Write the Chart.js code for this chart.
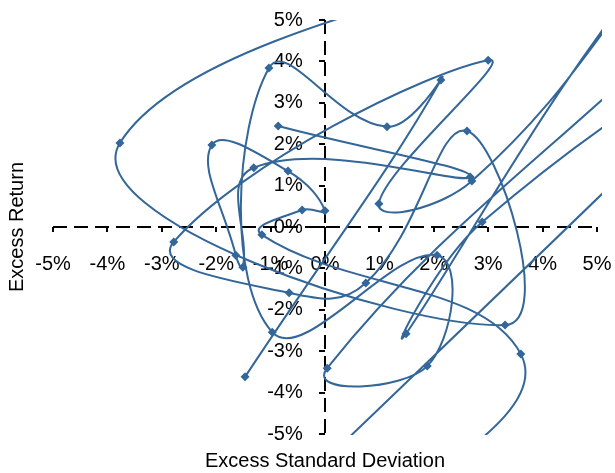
<!DOCTYPE html>
<html>
<head>
<meta charset="utf-8">
<script src="https://cdn.jsdelivr.net/npm/chart.js@4.4.0/dist/chart.umd.min.js"></script>
<style>
    html, body { margin: 0; padding: 0; background: #fff; }
</style>
</head>
<body>
<canvas id="riskChart" width="615" height="473"></canvas>
<script>
// series in plotting order, values in %
// (some points sit outside the -5%..5% window, the plot clips them like the original)
var excessStdDev = [-0.86, 2.67, -1.31, -1.51, -1.64, -2.08, -0.68, 0.00, -0.42, -1.16,
                    3.60, 1.40, -4.00, -2.00, 8.00, 8.50, 2.89, 1.49, 6.60, 8.30,
                    -3.77, 3.31, 2.61, 0.75, -0.66, -2.78, 3.00, 0.99, 2.70, 7.50,
                    8.50, 0.04, 1.88, 2.06, -0.97, -1.03, 1.14, 2.13, -1.47];
var excessReturn = [2.44, 1.21, 1.43, -0.97, -0.68, 1.98, 1.35, 0.39, 0.41, -0.19,
                    -3.07, -6.60, -10.70, -8.17, 4.51, 5.30, 0.12, -2.58, 7.30, 8.20,
                    2.03, -2.37, 2.32, -1.35, -1.59, -0.36, 4.03, 0.56, 1.11, 8.20,
                    7.60, -3.41, -3.36, -0.68, -2.54, 3.84, 2.42, 3.55, -3.62];
var axisTicks = [-5, -4, -3, -2, -1, 0, 1, 2, 3, 4, 5];
var xTitle = 'Excess Standard Deviation';
var yTitle = 'Excess Return';

var lineColor = '#336699';

Chart.defaults.font.family = '"Liberation Sans", Arial, sans-serif';
Chart.defaults.font.size = 20;
Chart.defaults.color = '#000';

var points = excessStdDev.map(function(x, i) {
    return { x: x, y: excessReturn[i] };
});

function setTicks(scale) {
    scale.ticks = axisTicks.map(function(v) { return { value: v }; });
}

// only the zero line is drawn, dashed, so it works as the crossing axis
function zeroLine(ctx) {
    return ctx.tick && ctx.tick.value === 0 ? '#000' : 'rgba(0,0,0,0)';
}

new Chart(document.getElementById('riskChart'), {
    type: 'scatter',
    data: {
        datasets: [{
            data: points,
            showLine: true,
            borderColor: lineColor,
            borderWidth: 2,
            tension: 0.45,
            backgroundColor: lineColor,
            pointStyle: 'rectRot',
            pointRadius: 4.5,
            pointBorderWidth: 0,
            clip: { left: 0, top: 0, right: 5, bottom: 1 }
        }]
    },
    options: {
        responsive: false,
        animation: false,
        layout: { padding: { left: 5, top: 20, right: 18, bottom: 0 } },
        elements: { line: { capBezierPoints: false } },
        plugins: {
            legend: { display: false },
            tooltip: { enabled: false }
        },
        scales: {
            x: {
                type: 'linear', min: -5, max: 5,
                position: { y: 0 },
                afterBuildTicks: setTicks,
                afterFit: function(s) { s.paddingLeft = 0; s.paddingRight = 0; },
                ticks: { callback: function(v) { return v + '%'; }, padding: 20, maxRotation: 0, autoSkip: false },
                grid: { color: zeroLine, tickColor: '#000', tickLength: 5, lineWidth: 2 },
                border: { display: false, dash: [14, 7] }
            },
            y: {
                type: 'linear', min: -5, max: 5,
                position: { x: 0 },
                afterBuildTicks: setTicks,
                afterFit: function(s) { s.paddingTop = 0; s.paddingBottom = 0; },
                // labels of a centred y axis sit right on the axis, the spaces keep the gap
                ticks: { callback: function(v) { return v + '%    '; }, padding: 0, autoSkip: false },
                grid: { color: zeroLine, tickColor: '#000', tickLength: 6, lineWidth: 2 },
                border: { display: false, dash: [14, 7] }
            },
            // empty axes on the edges, only there to carry the titles
            xTitleAxis: {
                type: 'linear', axis: 'x', position: 'bottom',
                ticks: { display: false },
                grid: { display: false, drawTicks: false },
                border: { display: false },
                title: { display: true, text: xTitle, padding: { top: 15, bottom: 0 } }
            },
            yTitleAxis: {
                type: 'linear', axis: 'y', position: 'left',
                ticks: { display: false },
                grid: { display: false, drawTicks: false },
                border: { display: false },
                title: { display: true, text: yTitle, padding: { top: 0, bottom: 24 } }
            }
        }
    }
});
</script>
</body>
</html>
